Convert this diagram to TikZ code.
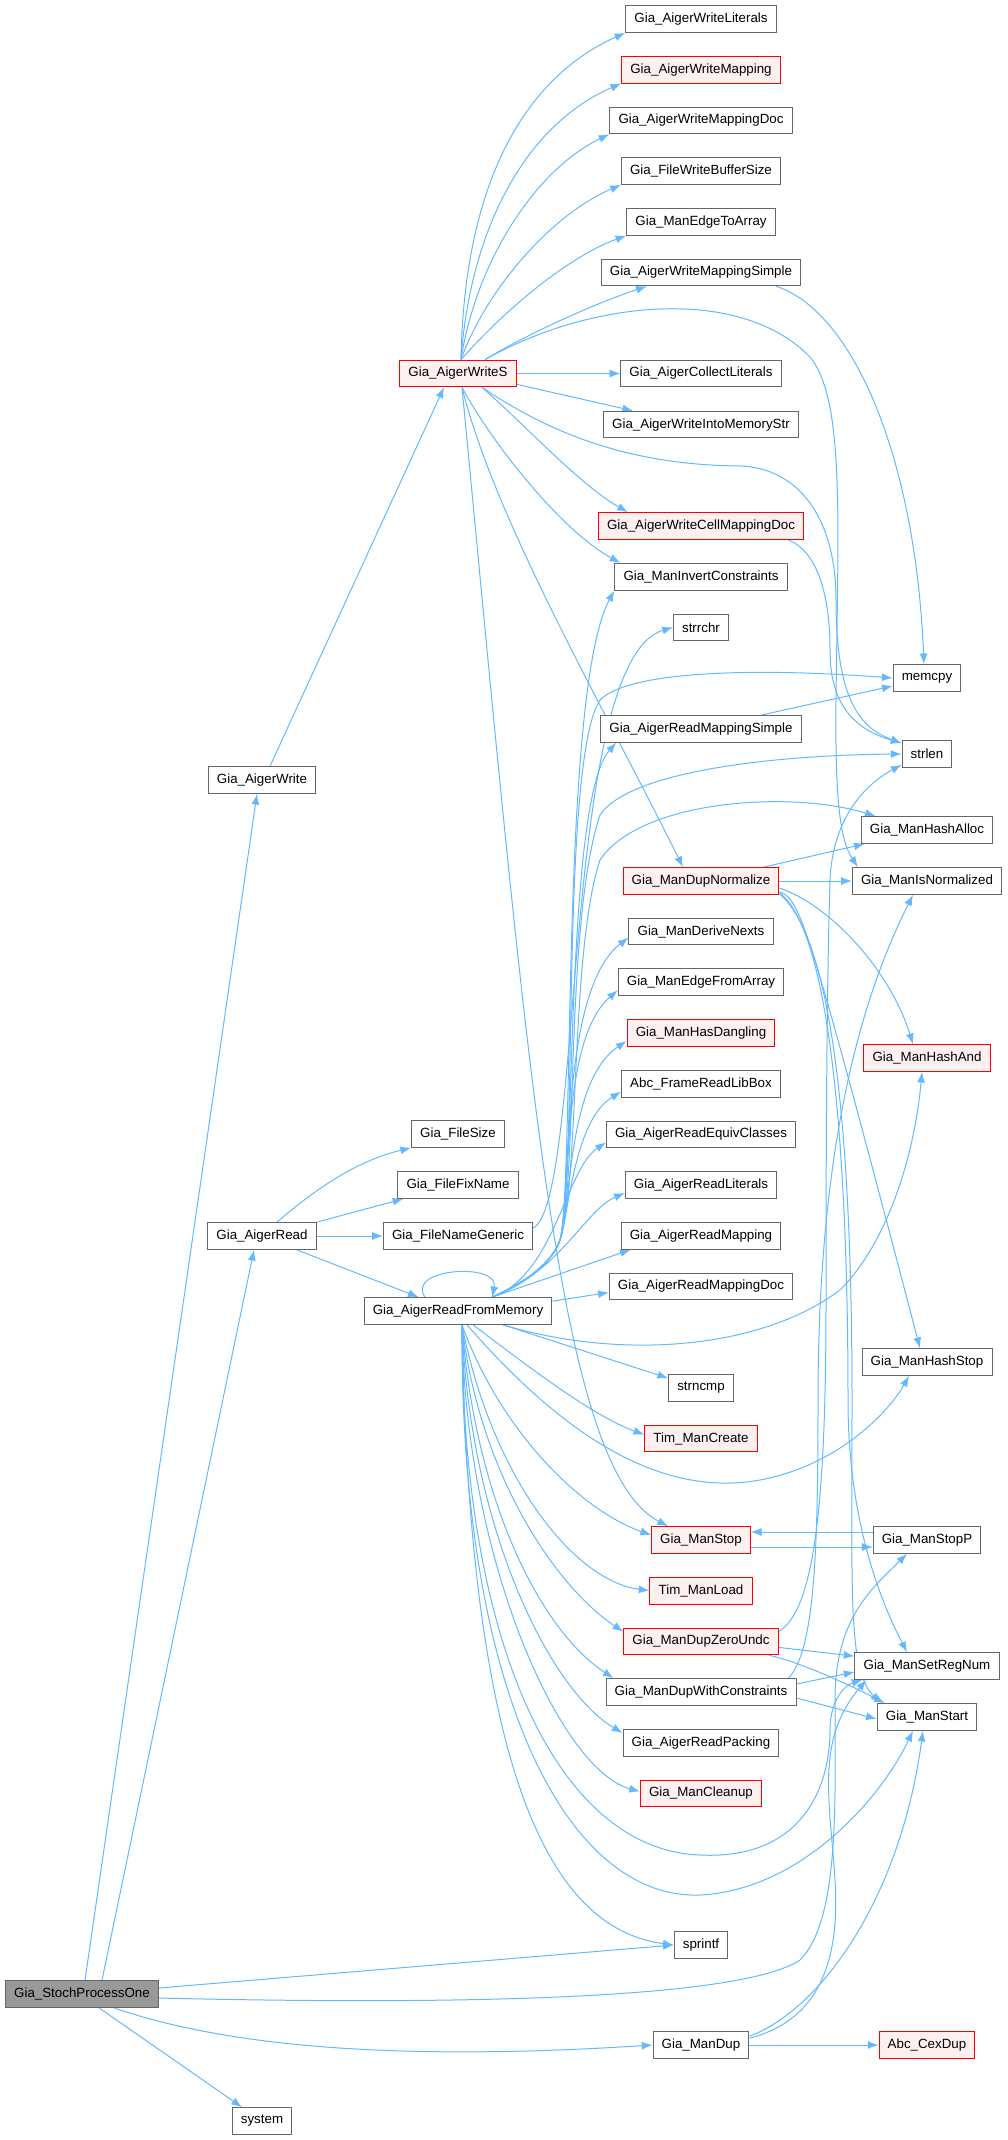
\documentclass[tikz,border=0pt]{standalone}
\usepackage{fontspec}
\setmainfont{Liberation Sans}
\usetikzlibrary{arrows.meta,calc}
\pgfdeclarelayer{background}
\pgfsetlayers{background,main}
\definecolor{edgeblue}{RGB}{99,184,255}
\definecolor{boxgray}{RGB}{102,102,102}
\definecolor{hotred}{RGB}{255,0,0}
\definecolor{hotfill}{RGB}{255,240,240}
\definecolor{rootfill}{RGB}{153,153,153}

\begin{document}
\begin{tikzpicture}[
    x=0.75pt, y=-0.75pt,
    fn/.style={draw=boxgray, fill=white, line width=0.75pt, minimum height=20pt,
      inner xsep=6.5pt, inner ysep=0pt, font=\fontsize{10}{12}\selectfont},
    hot/.style={fn, draw=hotred, fill=hotfill},
    root/.style={fn, fill=rootfill},
    call/.style={-{Latex[length=8pt,width=6pt]}, draw=edgeblue, line width=0.75pt}
  ]
  \useasboundingbox (0,0) rectangle (1007,2140);

  % callers
  \node[root] (stoch) at (82,1994) {Gia\_StochProcessOne};
  \node[fn] (aigerWrite) at (262,780) {Gia\_AigerWrite};
  \node[fn] (aigerRead) at (262,1236) {Gia\_AigerRead};
  \node[fn] (sysCall) at (262,2121) {system};
  \node[hot] (writeS) at (458,373.5) {Gia\_AigerWriteS};
  \node[fn] (fileSize) at (458,1134) {Gia\_FileSize};
  \node[fn] (fileFix) at (458,1185) {Gia\_FileFixName};
  \node[fn] (fileGen) at (458,1236) {Gia\_FileNameGeneric};
  \node[fn] (rfm) at (458,1311) {Gia\_AigerReadFromMemory};

  % third column
  \node[fn] (wLit) at (701,19) {Gia\_AigerWriteLiterals};
  \node[hot] (wMap) at (701,69.7) {Gia\_AigerWriteMapping};
  \node[fn] (wMapDoc) at (701,120.4) {Gia\_AigerWriteMappingDoc};
  \node[fn] (wBuf) at (701,171.1) {Gia\_FileWriteBufferSize};
  \node[fn] (edgeTo) at (701,221.8) {Gia\_ManEdgeToArray};
  \node[fn] (wMapSimple) at (701,272.5) {Gia\_AigerWriteMappingSimple};
  \node[fn] (collect) at (701,373.5) {Gia\_AigerCollectLiterals};
  \node[fn] (intoMem) at (701,424.6) {Gia\_AigerWriteIntoMemoryStr};
  \node[hot] (cellDoc) at (701,526) {Gia\_AigerWriteCellMappingDoc};
  \node[fn] (invert) at (701,576.7) {Gia\_ManInvertConstraints};
  \node[fn] (strrchr) at (701,627.4) {strrchr};
  \node[fn] (rMapSimple) at (701,728.8) {Gia\_AigerReadMappingSimple};
  \node[hot] (dupNorm) at (701,881) {Gia\_ManDupNormalize};
  \node[fn] (derive) at (701,931.6) {Gia\_ManDeriveNexts};
  \node[fn] (edgeFrom) at (701,982.3) {Gia\_ManEdgeFromArray};
  \node[hot] (hasDang) at (701,1033) {Gia\_ManHasDangling};
  \node[fn] (libBox) at (701,1083.7) {Abc\_FrameReadLibBox};
  \node[fn] (equiv) at (701,1134.4) {Gia\_AigerReadEquivClasses};
  \node[fn] (rLit) at (701,1185) {Gia\_AigerReadLiterals};
  \node[fn] (rMap) at (701,1235.8) {Gia\_AigerReadMapping};
  \node[fn] (rMapDoc) at (701,1286.5) {Gia\_AigerReadMappingDoc};
  \node[fn] (strncmp) at (701,1388) {strncmp};
  \node[hot] (timCreate) at (701,1438.6) {Tim\_ManCreate};
  \node[hot] (manStop) at (701,1540) {Gia\_ManStop};
  \node[hot] (timLoad) at (701,1590.7) {Tim\_ManLoad};
  \node[hot] (dupZero) at (701,1641.4) {Gia\_ManDupZeroUndc};
  \node[fn] (dupCons) at (701,1692) {Gia\_ManDupWithConstraints};
  \node[fn] (packing) at (701,1742.8) {Gia\_AigerReadPacking};
  \node[hot] (cleanup) at (701,1793.5) {Gia\_ManCleanup};
  \node[fn] (sprintf) at (701,1945) {sprintf};
  \node[fn] (manDup) at (701,2045) {Gia\_ManDup};

  % fourth column
  \node[fn] (memcpy) at (927,678) {memcpy};
  \node[fn] (strlen) at (927,754) {strlen};
  \node[fn] (hashAlloc) at (927,830) {Gia\_ManHashAlloc};
  \node[fn] (isNorm) at (927,881) {Gia\_ManIsNormalized};
  \node[hot] (hashAnd) at (927,1058) {Gia\_ManHashAnd};
  \node[fn] (hashStop) at (927,1362) {Gia\_ManHashStop};
  \node[fn] (stopP) at (927,1540) {Gia\_ManStopP};
  \node[fn] (setReg) at (927,1666) {Gia\_ManSetRegNum};
  \node[fn] (manStart) at (927,1717) {Gia\_ManStart};
  \node[hot] (cexDup) at (927,2045) {Abc\_CexDup};

  \coordinate (wsTop) at ($(writeS.north)+(3,0)$);
  \coordinate (wsTopR) at ($(writeS.north)+(27,0)$);
  \coordinate (wsBot) at ($(writeS.south)+(4,0)$);
  \coordinate (wsBotR) at ($(writeS.south)+(24,0)$);
  \coordinate (rfmTop) at ($(rfm.north)+(34,0)$);
  \coordinate (fanKnee) at (560,1240);
  \coordinate (rfmBot) at ($(rfm.south)+(4,0)$);
  \coordinate (rfmBotR) at ($(rfm.south)+(45,0)$);

  \begin{pgfonlayer}{background}
  % Gia_AigerWriteS
  \draw[call] (wsTop) .. controls (464,190) and (520,80) .. (wLit.south west);
  \draw[call] (wsTop) .. controls (470,230) and (525,125) .. (wMap.south west);
  \draw[call] (wsTop) .. controls (476,262) and (535,170) .. (wMapDoc.south west);
  \draw[call] (wsTop) .. controls (485,292) and (550,215) .. (wBuf.south west);
  \draw[call] (wsTop) .. controls (500,315) and (565,258) .. (edgeTo.south west);
  \draw[call] (wsTopR) .. controls (520,338) and (590,305) .. ($(wMapSimple.south west)+(46,0)$);
  \draw[call] (wsTopR) .. controls (590,300) and (740,285) .. (810,357) .. controls (845,400) and (838,520) .. (836,700) .. controls (835,800) and (840,840) .. ($(isNorm.north west)+(6,0)$);
  \draw[call] (writeS.east) -- (collect.west);
  \draw[call] ($(writeS.south east)+(0,-3)$) -- ($(intoMem.north west)+(30,0)$);
  \draw[call] (wsBotR) .. controls (560,440) and (640,465) .. (740,466) .. controls (800,468) and (836,520) .. (836,600) .. controls (836,700) and (860,728) .. ($(strlen.north west)+(0,3)$);
  \draw[call] (wsBotR) .. controls (525,425) and (580,485) .. ($(cellDoc.north west)+(30,0)$);
  \draw[call] (wsBot) .. controls (490,440) and (560,530) .. ($(invert.north west)+(6,0)$);
  \draw[call] (wsBot) .. controls (495,520) and (600,700) .. ($(dupNorm.north)+(-18,0)$);
  \draw[call] (wsBot) .. controls (530,1100) and (560,1470) .. ($(manStop.north west)+(17,0)$);
  \draw[call] ($(wMapSimple.south east)+(-25,0)$) .. controls (850,310) and (915,450) .. ($(memcpy.north)+(-3,0)$);
  \draw[call] ($(cellDoc.south east)+(-16,0)$) .. controls (815,550) and (830,590) .. (830,650) .. controls (830,700) and (850,728) .. ($(strlen.north west)+(0,3)$);

  % callers of the writer and reader
  \draw[call] ($(aigerWrite.north)+(8,0)$) -- ($(writeS.south)+(-14,0)$);
  \draw[call] ($(stoch.north)+(3,0)$) -- ($(aigerWrite.south)+(-5,0)$);
  \draw[call] ($(stoch.north)+(20,0)$) -- ($(aigerRead.south)+(-8,0)$);
  \draw[call] ($(stoch.east)+(0,-6)$) -- (sprintf.west);
  \draw[call] ($(stoch.east)+(0,4)$) .. controls (450,2005) and (740,2000) .. (800,1960) .. controls (840,1920) and (835,1800) .. (835,1700) .. controls (835,1620) and (870,1590) .. ($(stopP.south)+(-20,0)$);
  \draw[call] ($(stoch.south)+(32,0)$) .. controls (250,2055) and (450,2058) .. (manDup.west);
  \draw[call] ($(stoch.south)+(17,0)$) -- ($(sysCall.north)+(-20,0)$);
  \draw[call] ($(aigerRead.north)+(15,0)$) .. controls (320,1185) and (360,1160) .. (fileSize.south west);
  \draw[call] (aigerRead.north east) -- ($(fileFix.south west)+(6,0)$);
  \draw[call] (aigerRead.east) -- (fileGen.west);
  \draw[call] ($(aigerRead.south east)+(-20,0)$) -- ($(rfm.north west)+(55,0)$);
  \draw[call] ($(fileGen.north east)+(0,6)$) .. controls (585,1200) and (560,660) .. (strrchr.west);

  % Gia_AigerReadFromMemory
  \draw[call] ($(rfm.north)+(-33,0)$) .. controls (405,1268) and (500,1262) .. ($(rfm.north)+(34,0)$);
  \draw[call] (rfmTop) .. controls (530,1280) and (552,1262) .. (fanKnee) .. controls (575,1180) and (560,690) .. (invert.south west);
  \draw[call] (rfmTop) .. controls (530,1280) and (552,1262) .. (fanKnee) .. controls (578,1180) and (560,760) .. (600,700) .. controls (630,670) and (760,668) .. (memcpy.west);
  \draw[call] (rfmTop) .. controls (530,1280) and (552,1262) .. (fanKnee) .. controls (576,1180) and (565,800) .. ($(rMapSimple.south west)+(16,0)$);
  \draw[call] (rfmTop) .. controls (530,1280) and (552,1262) .. (fanKnee) .. controls (578,1180) and (565,920) .. (600,815) .. controls (630,770) and (780,755) .. (strlen.west);
  \draw[call] (rfmTop) .. controls (530,1280) and (552,1262) .. (fanKnee) .. controls (580,1180) and (570,950) .. (600,860) .. controls (640,800) and (790,790) .. ($(hashAlloc.north west)+(15,0)$);
  \draw[call] (rfmTop) .. controls (530,1280) and (552,1262) .. (fanKnee) .. controls (572,1190) and (560,990) .. ($(derive.west)+(0,6)$);
  \draw[call] (rfmTop) .. controls (530,1280) and (552,1262) .. (fanKnee) .. controls (572,1195) and (560,1040) .. ($(edgeFrom.west)+(0,8)$);
  \draw[call] (rfmTop) .. controls (530,1280) and (552,1262) .. (fanKnee) .. controls (572,1200) and (568,1080) .. ($(hasDang.west)+(0,8)$);
  \draw[call] (rfmTop) .. controls (530,1280) and (552,1262) .. (fanKnee) .. controls (570,1205) and (575,1120) .. ($(libBox.west)+(0,8)$);
  \draw[call] (rfmTop) .. controls (555,1275) and (565,1170) .. ($(equiv.west)+(0,8)$);
  \draw[call] (rfmTop) .. controls (560,1272) and (585,1210) .. ($(rLit.west)+(0,8)$);
  \draw[call] (rfmTop) -- ($(rMap.south west)+(10,0)$);
  \draw[call] ($(rfm.north east)+(0,4)$) -- ($(rMapDoc.west)+(0,6)$);
  \draw[call] (rfmBotR) .. controls (620,1360) and (760,1350) .. (840,1290) .. controls (890,1240) and (915,1150) .. ($(hashAnd.south)+(-5,0)$);
  \draw[call] (rfmBotR) -- ($(strncmp.north west)+(0,4)$);
  \draw[call] ($(rfm.south)+(15,0)$) .. controls (520,1360) and (590,1415) .. ($(timCreate.west)+(0,-4)$);
  \draw[call] ($(rfm.south)+(9,0)$) .. controls (550,1420) and (650,1500) .. (760,1480) .. controls (840,1465) and (890,1410) .. ($(hashStop.south)+(-18,0)$);
  \draw[call] (rfmBot) .. controls (500,1430) and (580,1510) .. ($(manStop.west)+(0,-5)$);
  \draw[call] (rfmBot) .. controls (490,1470) and (570,1580) .. (timLoad.west);
  \draw[call] (rfmBot) .. controls (480,1480) and (560,1590) .. ($(dupZero.north west)+(0,4)$);
  \draw[call] (rfmBot) .. controls (475,1500) and (540,1630) .. ($(dupCons.north west)+(8,0)$);
  \draw[call] (rfmBot) .. controls (470,1530) and (550,1690) .. ($(packing.north west)+(0,4)$);
  \draw[call] (rfmBot) .. controls (465,1560) and (560,1770) .. ($(cleanup.west)+(0,-2)$);
  \draw[call] (rfmBot) .. controls (462,1650) and (560,1850) .. (700,1855) .. controls (800,1860) and (830,1790) .. (830,1730) .. controls (830,1700) and (845,1685) .. ($(setReg.south west)+(8,0)$);
  \draw[call] (rfmBot) .. controls (460,1700) and (570,1900) .. (700,1895) .. controls (800,1890) and (880,1800) .. ($(manStart.south)+(-14,0)$);
  \draw[call] (rfmBot) .. controls (470,1800) and (560,1930) .. (sprintf.west);
  \draw[call] ($(rMapSimple.north east)+(-40,0)$) -- ($(memcpy.west)+(0,8)$);

  % duplicators
  \draw[call] ($(dupNorm.north east)+(-16,0)$) -- ($(hashAlloc.south west)+(4,0)$);
  \draw[call] (dupNorm.east) -- (isNorm.west);
  \draw[call] ($(dupNorm.east)+(0,7)$) .. controls (830,905) and (890,970) .. ($(hashAnd.north)+(-14,0)$);
  \draw[call] ($(dupNorm.south east)+(0,-3)$) .. controls (800,900) and (805,910) .. ($(hashStop.north)+(-7,0)$);
  \draw[call] ($(dupNorm.south east)+(0,-2)$) .. controls (830,930) and (848,1150) .. (848,1400) .. controls (848,1520) and (880,1600) .. ($(setReg.north)+(-20,0)$);
  \draw[call] ($(dupNorm.south east)+(0,-1)$) .. controls (835,940) and (852,1150) .. (852,1400) .. controls (852,1600) and (848,1670) .. ($(manStart.north west)+(4,0)$);
  \draw[call] ($(dupCons.north east)+(-8,0)$) .. controls (815,1650) and (818,1550) .. (818,1400) .. controls (818,1150) and (860,1000) .. ($(isNorm.south)+(-14,0)$);
  \draw[call] ($(dupZero.north east)+(0,4)$) .. controls (815,1610) and (826,1500) .. (826,1300) .. controls (826,1050) and (828,950) .. (830,880) .. controls (832,830) and (855,790) .. ($(strlen.south west)+(0,-3)$);
  \draw[call] ($(dupZero.east)+(0,6)$) -- ($(setReg.north west)+(0,4)$);
  \draw[call] ($(dupZero.south east)+(-10,0)$) .. controls (800,1662) and (850,1685) .. ($(manStart.north west)+(8,0)$);
  \draw[call] ($(dupCons.east)+(0,-8)$) -- ($(setReg.west)+(0,6)$);
  \draw[call] ($(dupCons.east)+(0,6)$) -- ($(manStart.west)+(0,2)$);
  \draw[call] ($(stopP.west)+(0,-8)$) -- ($(manStop.east)+(0,-8)$);
  \draw[call] ($(manStop.east)+(0,7)$) -- ($(stopP.west)+(0,7)$);
  \draw[call] (manDup.east) -- (cexDup.west);
  \draw[call] ($(manDup.north east)+(0,5)$) .. controls (820,2010) and (900,1900) .. ($(manStart.south)+(-4,0)$);
  \draw[call] ($(manDup.north east)+(0,7)$) .. controls (820,2020) and (840,1960) .. (835,1880) .. controls (830,1800) and (815,1740) .. ($(setReg.south west)+(12,0)$);
  \end{pgfonlayer}
\end{tikzpicture}
\end{document}
